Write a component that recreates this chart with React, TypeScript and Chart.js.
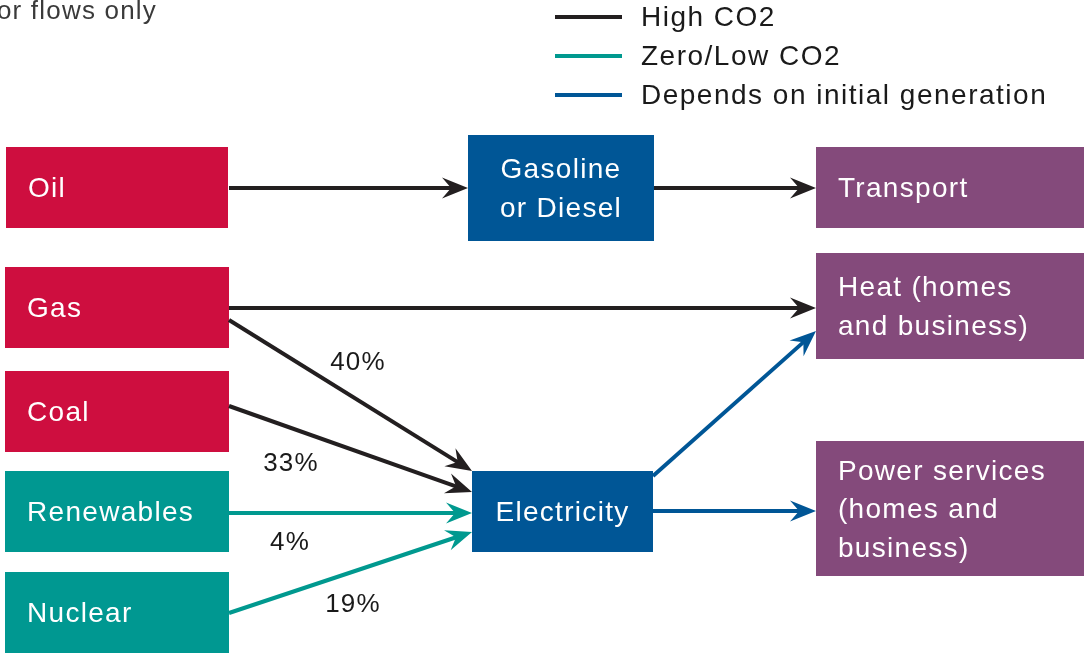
import React, { useEffect, useRef } from "react";
import { Chart, registerables } from "chart.js";

Chart.register(...registerables);

// ---- data ----
const nodeNames = ["Oil", "Gas", "Coal", "Renewables", "Nuclear", "Gasoline", "Electricity", "Transport", "Heat", "Power"];
const nodeLabels = [
  ["Oil"], ["Gas"], ["Coal"], ["Renewables"], ["Nuclear"],
  ["Gasoline", "or Diesel"], ["Electricity"], ["Transport"],
  ["Heat (homes", "and business)"], ["Power services", "(homes and", "business)"],
];
const nodeKinds = ["fossil", "fossil", "fossil", "clean", "clean", "carrier", "carrier", "use", "use", "use"];

const flowFrom = ["Oil", "Gasoline", "Gas", "Gas", "Coal", "Renewables", "Nuclear", "Electricity", "Electricity"];
const flowTo = ["Gasoline", "Transport", "Heat", "Electricity", "Electricity", "Electricity", "Electricity", "Heat", "Power"];
const flowTypes = ["high", "high", "high", "high", "high", "low", "low", "depends", "depends"];
const flowShares = [null, null, null, 40, 33, 4, 19, null, null];

const legendKeys = ["high", "low", "depends"];
const legendLabels = ["High CO2", "Zero/Low CO2", "Depends on initial generation"];

const noteText = "Major flows only";

// ---- layout (diagram units, 0..1084 x 0..653) ----
const nodeBoxes: Record<string, [number, number, number, number]> = {
  Oil: [6, 147, 228, 228],
  Gas: [5, 267, 229, 348],
  Coal: [5, 371, 229, 452],
  Renewables: [5, 471, 229, 552],
  Nuclear: [5, 572, 229, 653],
  Gasoline: [468, 135, 654, 241],
  Electricity: [472, 471, 653, 552],
  Transport: [816, 147, 1084, 228],
  Heat: [816, 253, 1084, 359],
  Power: [816, 441, 1084, 576],
};
const flowStart = [[229, 188], [654, 188], [229, 308], [229, 320], [229, 406], [229, 513], [229, 613], [653, 476], [653, 511]];
const flowEnd = [[468, 188], [816, 188], [816, 308], [472, 471], [472, 492], [472, 513], [472, 532], [816, 331], [816, 511]];
const shareLabelPos = [null, null, null, [358, 363], [291, 464], [290, 543], [353, 605], null, null];

const kindFill: Record<string, string> = {
  fossil: "#CE0E3F",
  clean: "#009891",
  carrier: "#005696",
  use: "#844A7B",
};
const flowColor: Record<string, string> = {
  high: "#231F20",
  low: "#00998F",
  depends: "#005696",
};

const HEAD_LEN = 26;
const HEAD_W = 10.5;
const NOTCH = 0.65;
const FONT = '"Liberation Sans", Arial, sans-serif';

function shaftEnd(i: number) {
  const [x0, y0] = flowStart[i];
  const [x1, y1] = flowEnd[i];
  const d = Math.hypot(x1 - x0, y1 - y0);
  const ux = (x1 - x0) / d, uy = (y1 - y0) / d;
  return { x: x1 - ux * HEAD_LEN * (1 - NOTCH) - ux * 2, y: y1 - uy * HEAD_LEN * (1 - NOTCH) - uy * 2 };
}

const diagramPlugin = {
  id: "diagram",
  beforeDatasetsDraw(chart: any) {
    const { ctx, scales } = chart;
    const X = (v: number) => scales.x.getPixelForValue(v);
    const Y = (v: number) => scales.y.getPixelForValue(v);
    ctx.save();
    nodeNames.forEach((n, i) => {
      const [x0, y0, x1, y1] = nodeBoxes[n];
      ctx.fillStyle = kindFill[nodeKinds[i]];
      ctx.fillRect(X(x0), Y(y0), X(x1) - X(x0), Y(y1) - Y(y0));
    });
    ctx.restore();
  },
  afterDatasetsDraw(chart: any) {
    const { ctx, scales } = chart;
    const X = (v: number) => scales.x.getPixelForValue(v);
    const Y = (v: number) => scales.y.getPixelForValue(v);
    ctx.save();
    // arrow heads
    flowFrom.forEach((_, i) => {
      const sx = X(flowStart[i][0]), sy = Y(flowStart[i][1]);
      const tx = X(flowEnd[i][0]), ty = Y(flowEnd[i][1]);
      const d = Math.hypot(tx - sx, ty - sy);
      const ux = (tx - sx) / d, uy = (ty - sy) / d;
      const px = -uy, py = ux;
      ctx.fillStyle = flowColor[flowTypes[i]];
      ctx.beginPath();
      ctx.moveTo(tx, ty);
      ctx.lineTo(tx - ux * HEAD_LEN + px * HEAD_W, ty - uy * HEAD_LEN + py * HEAD_W);
      ctx.lineTo(tx - ux * HEAD_LEN * NOTCH, ty - uy * HEAD_LEN * NOTCH);
      ctx.lineTo(tx - ux * HEAD_LEN - px * HEAD_W, ty - uy * HEAD_LEN - py * HEAD_W);
      ctx.closePath();
      ctx.fill();
    });
    // node labels
    ctx.fillStyle = "#FFFFFF";
    ctx.textBaseline = "middle";
    (ctx as any).letterSpacing = "1.3px";
    ctx.font = `28px ${FONT}`;
    nodeNames.forEach((n, i) => {
      const [x0, y0, x1, y1] = nodeBoxes[n];
      const lines = nodeLabels[i];
      const lh = 38.5;
      const cy = (y0 + y1) / 2 + 2;
      const centered = nodeKinds[i] === "carrier";
      ctx.textAlign = centered ? "center" : "left";
      const tx = centered ? (x0 + x1) / 2 : x0 + 22;
      lines.forEach((t, k) => {
        const ly = cy + (k - (lines.length - 1) / 2) * lh;
        ctx.fillText(t, X(tx), Y(ly));
      });
    });
    // share labels
    ctx.fillStyle = "#1a1a1a";
    ctx.textAlign = "center";
    (ctx as any).letterSpacing = "1.2px";
    ctx.font = `26px ${FONT}`;
    flowShares.forEach((s, i) => {
      const p = shareLabelPos[i];
      if (s == null || !p) return;
      ctx.fillText(`${s}%`, X(p[0]), Y(p[1]));
    });
    // legend
    (ctx as any).letterSpacing = "1.5px";
    ctx.font = `28px ${FONT}`;
    ctx.textAlign = "left";
    legendKeys.forEach((k, i) => {
      const y = 17 + i * 39;
      ctx.strokeStyle = flowColor[k];
      ctx.lineWidth = 4;
      ctx.beginPath();
      ctx.moveTo(X(555), Y(y));
      ctx.lineTo(X(622), Y(y));
      ctx.stroke();
      ctx.fillStyle = "#1a1a1a";
      ctx.fillText(legendLabels[i], X(641), Y(y + 1.5));
    });
    // note
    ctx.fillStyle = "#3a3a3a";
    ctx.textAlign = "right";
    (ctx as any).letterSpacing = "1.2px";
    ctx.font = `26px ${FONT}`;
    ctx.fillText(noteText, X(157), Y(12));
    ctx.restore();
  },
};

export default function App() {
  const ref = useRef<HTMLCanvasElement | null>(null);
  useEffect(() => {
    if (!ref.current) return;
    const datasets = flowFrom.map((f, i) => ({
      label: `${f} → ${flowTo[i]}`,
      data: [{ x: flowStart[i][0], y: flowStart[i][1] }, shaftEnd(i)],
      borderColor: flowColor[flowTypes[i]],
      backgroundColor: flowColor[flowTypes[i]],
      borderWidth: 4,
      pointRadius: 0,
      showLine: true,
      fill: false,
      tension: 0,
    }));
    const chart = new Chart(ref.current, {
      type: "scatter",
      data: { datasets },
      options: {
        animation: false,
        responsive: false,
        layout: { padding: 0 },
        plugins: { legend: { display: false }, tooltip: { enabled: false } },
        scales: {
          x: { type: "linear", min: 0, max: 1084, display: false },
          y: { type: "linear", min: 0, max: 653, reverse: true, display: false },
        },
      },
      plugins: [diagramPlugin],
    });
    return () => chart.destroy();
  }, []);
  return (
    <div style={{ position: "absolute", left: 0, top: 0, width: 1084, height: 653, background: "#fff" }}>
      <canvas ref={ref} width={1084} height={653} style={{ display: "block" }} />
    </div>
  );
}
